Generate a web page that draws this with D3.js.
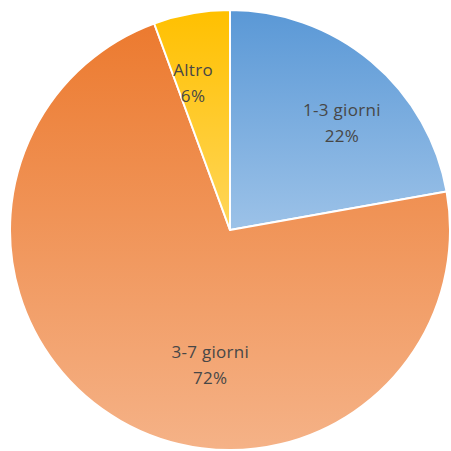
<!DOCTYPE html>
<html><head><meta charset="utf-8">
<script src="https://cdn.jsdelivr.net/npm/d3@7"></script>
<style>html,body{margin:0;padding:0;background:#fff;}svg{display:block;}</style>
</head><body>
<svg id="chart" width="451" height="451"></svg>
<script>
const categories = ["1-3 giorni", "3-7 giorni", "Altro"];
const values = [22.2, 72.2, 5.6];
const colorsTop = ["#5a98d6", "#ec7a2f", "#ffc000"];
const colorsBottom = ["#9cc2e8", "#f5b287", "#ffd65a"];

const W = 451, H = 451, cx = 230, cy = 230, R = 220;
const svg = d3.select("#chart");
const defs = svg.append("defs");
categories.forEach((c, i) => {
  const g = defs.append("linearGradient").attr("id", "g" + i)
    .attr("x1", 0).attr("y1", 0).attr("x2", 0).attr("y2", 1);
  g.append("stop").attr("offset", "0%").attr("stop-color", colorsTop[i]);
  g.append("stop").attr("offset", "100%").attr("stop-color", colorsBottom[i]);
});

const pie = d3.pie().sort(null).value(d => d);
const arcs = pie(values);
const arc = d3.arc().innerRadius(0).outerRadius(R);
const labelArc = d3.arc().innerRadius(R * 0.7).outerRadius(R * 0.7);
const total = d3.sum(values);

const g = svg.append("g").attr("transform", `translate(${cx},${cy})`);
g.selectAll("path").data(arcs).join("path")
  .attr("d", arc)
  .attr("fill", (d, i) => `url(#g${i})`)
  .attr("stroke", "#fff").attr("stroke-width", 2).attr("stroke-linejoin", "round");

const nudge = [[13, 11], [57, 1], [-10, 5]];
const lbl = g.selectAll("text").data(arcs).join("text")
  .attr("transform", (d, i) => {
    const [x, y] = labelArc.centroid(d);
    return `translate(${x + nudge[i][0]},${y + nudge[i][1]})`;
  })
  .attr("text-anchor", "middle")
  .attr("font-family", "'Open Sans', Lato, sans-serif")
  .attr("font-size", 17)
  .attr("letter-spacing", 0.3)
  .attr("fill", "#474747");
lbl.append("tspan").attr("x", 0).attr("y", -7).text((d, i) => categories[i]);
lbl.append("tspan").attr("x", 0).attr("y", 19).text(d => Math.round(d.value / total * 100) + "%");
</script>
</body></html>
